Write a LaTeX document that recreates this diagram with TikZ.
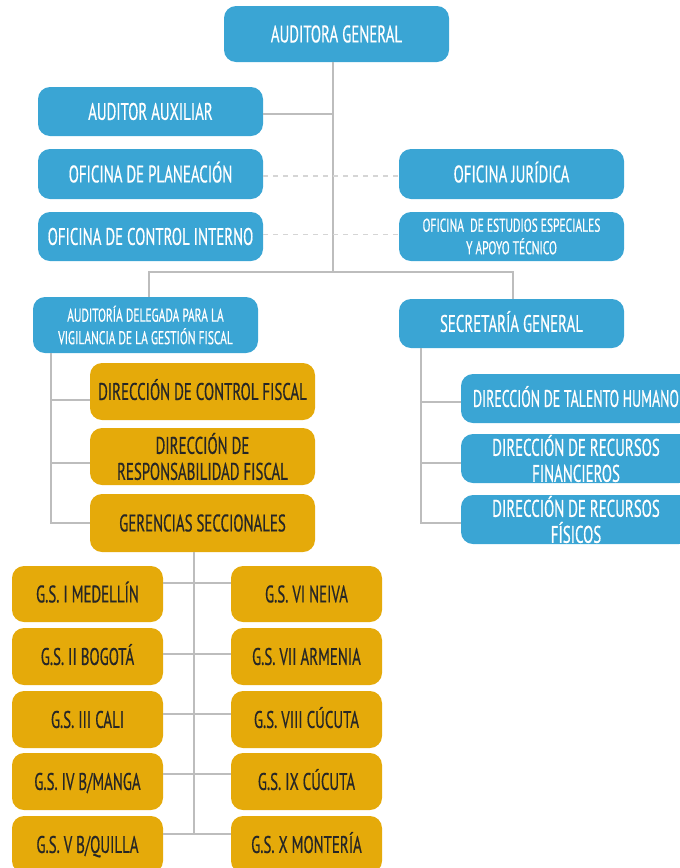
\documentclass[tikz,border=0pt]{standalone}
\usepackage{fontspec}
\setmainfont{PT Sans}[FakeStretch=0.62,FakeBold=0.5]
\usetikzlibrary{calc}
\definecolor{cblue}{HTML}{3AA5D4}
\definecolor{cgold}{HTML}{E5AA0A}
\definecolor{cline}{HTML}{BDBDBD}
\definecolor{cdash}{HTML}{D5D5D5}
\definecolor{ctext}{HTML}{262626}
\begin{document}
\begin{tikzpicture}[x=1pt,y=-1pt,
 box/.style={rounded corners=12pt, inner sep=0pt, align=center},
 bluebox/.style={box, fill=cblue, text=white},
 goldbox/.style={box, fill=cgold, text=ctext},
 big/.style={font=\fontsize{24}{26}\selectfont},
 one/.style={text height=16.8pt, text depth=0pt},
 small/.style={font=\fontsize{18.5}{22.5}\selectfont},
 conn/.style={draw=cline, line width=1.1pt},
 dconn/.style={draw=cdash, line width=1.1pt, dash pattern=on 5pt off 5pt}]
\useasboundingbox (0,0) rectangle (680,868);
\clip (0,0) rectangle (680,868);
% top
\node[bluebox,big,one,minimum width=225pt,minimum height=56pt] (ag) at (336.5,34) {AUDITORA GENERAL};
\node[bluebox,big,one,minimum width=225pt,minimum height=49pt] (aa) at (150.5,111.5) {AUDITOR AUXILIAR};
\node[bluebox,big,one,minimum width=225pt,minimum height=50pt] (op) at (150.5,174) {OFICINA DE PLANEACIÓN};
\node[bluebox,big,one,minimum width=225pt,minimum height=50pt] (oj) at (511.5,174) {OFICINA JURÍDICA};
\node[bluebox,big,one,minimum width=225pt,minimum height=49pt] (oci) at (150.5,236.5) {OFICINA DE CONTROL INTERNO};
\node[bluebox,small,minimum width=225pt,minimum height=49pt] (oee) at (511.5,236.5) {OFICINA\ \ DE ESTUDIOS ESPECIALES\\Y APOYO TÉCNICO};
% second level
\node[bluebox,small,minimum width=225pt,minimum height=56pt] (ad) at (145.5,325) {AUDITORÍA DELEGADA PARA LA\\VIGILANCIA DE LA GESTIÓN FISCAL};
\node[bluebox,big,one,minimum width=225pt,minimum height=49pt] (sg) at (511.5,323.5) {SECRETARÍA GENERAL};
% left directorates
\node[goldbox,big,one,minimum width=225pt,minimum height=57pt] (dcf) at (202.5,391.5) {DIRECCIÓN DE CONTROL FISCAL};
\node[goldbox,big,minimum width=225pt,minimum height=57pt] (drf) at (202.5,456.5) {DIRECCIÓN DE\\RESPONSABILIDAD FISCAL};
\node[goldbox,big,one,minimum width=225pt,minimum height=58pt] (gs) at (202.5,523) {GERENCIAS SECCIONALES};
% right directorates
\node[bluebox,big,one,minimum width=230pt,minimum height=49pt] (dth) at (576,398.5) {\scalebox{0.93}[1]{DIRECCIÓN DE TALENTO HUMANO}};
\node[bluebox,big,minimum width=230pt,minimum height=49pt] (dfin) at (576,458.5) {DIRECCIÓN DE RECURSOS\\FINANCIEROS};
\node[bluebox,big,minimum width=230pt,minimum height=49pt] (dfis) at (576,519.5) {DIRECCIÓN DE RECURSOS\\FÍSICOS};
% gerencias
\foreach \n/\y/\h/\tl/\tr in {1/594/56/{G.S. I MEDELLÍN}/{G.S. VI NEIVA},
  2/656.5/57/{G.S. II BOGOTÁ}/{G.S. VII ARMENIA},
  3/719.5/57/{G.S. III CALI}/{G.S. VIII CÚCUTA},
  4/781.5/57/{G.S. IV B/MANGA}/{G.S. IX CÚCUTA},
  5/844.5/57/{G.S. V B/QUILLA}/{G.S. X MONTERÍA}}{
  \node[goldbox,big,one,minimum width=151pt,minimum height=\h pt] (gl\n) at (87.5,\y) {\tl};
  \node[goldbox,big,one,minimum width=151pt,minimum height=\h pt] (gr\n) at (306.5,\y) {\tr};
}
% connectors
\coordinate (hb) at (333,272);
\draw[conn] ([xshift=-3.5pt]ag.south) -- ([xshift=-3.5pt]ag.south |- hb);
\draw[conn] ([yshift=-2.5pt]aa.east) -- ([yshift=-2.5pt]aa.east -| hb);
\draw[dconn] ([yshift=-2pt]op.east) -- ([yshift=-2pt]oj.west);
\draw[dconn] ([yshift=2pt]oci.east) -- ([yshift=2pt]oee.west);
\draw[conn] ([xshift=3.5pt]ad.north) |- (hb) -| ([xshift=1.5pt]sg.north);
% left tree
\draw[conn] ([xshift=-94.5pt]ad.south) |- (gs.west);
\draw[conn] ([yshift=-8.5pt]dcf.west) -- +(-39,0);
\draw[conn] ([yshift=-6.5pt]drf.west) -- +(-39,0);
% right tree
\draw[conn] ([xshift=-90.5pt]sg.south) |- ([yshift=-3.5pt]dfis.west);
\draw[conn] ([yshift=-3.5pt]dth.west) -- +(-40,0);
\draw[conn] ([yshift=-4.5pt]dfin.west) -- +(-40,0);
% gerencias tree
\coordinate (v5) at ([yshift=10.5pt]gl5.east);
\draw[conn] ([xshift=-8.5pt]gs.south) -- ([xshift=-8.5pt]gs.south |- v5);
\draw[conn] ([yshift=11pt]gl1.east) -- ([yshift=11pt]gr1.west);
\draw[conn] ([yshift=2.5pt]gl2.east) -- ([yshift=2.5pt]gr2.west);
\draw[conn] ([yshift=5.5pt]gl3.east) -- ([yshift=5.5pt]gr3.west);
\draw[conn] ([yshift=7.5pt]gl4.east) -- ([yshift=7.5pt]gr4.west);
\draw[conn] (v5) -- ([yshift=10.5pt]gr5.west);
\end{tikzpicture}
\end{document}
